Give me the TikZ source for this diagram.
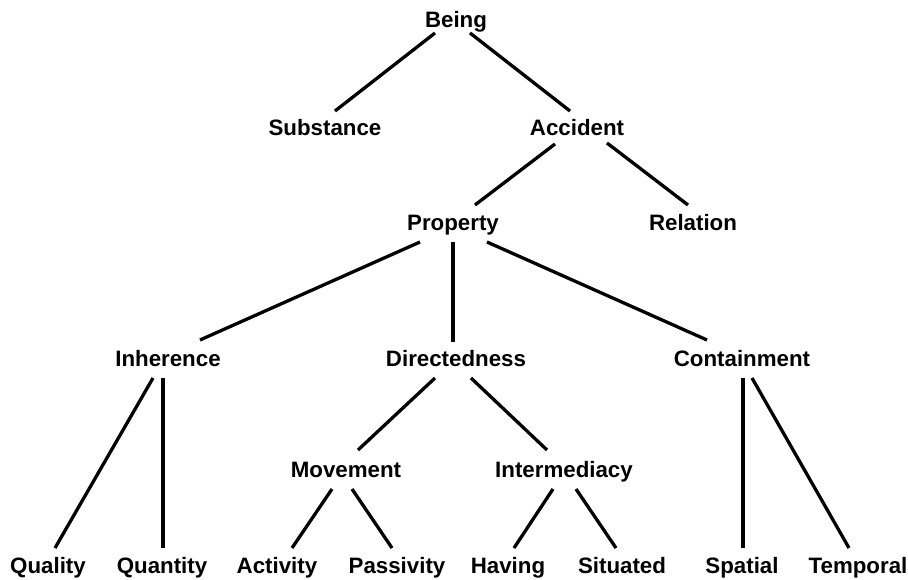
\documentclass[tikz,border=0pt]{standalone}
\usepackage{fontspec}
\setmainfont{Liberation Sans}
\begin{document}
\begin{tikzpicture}[x=1pt,y=-1pt,
  lbl/.style={anchor=base,inner sep=0pt,font=\fontsize{22.3}{24}\selectfont\bfseries},
  edge/.style={line width=3.3pt,black}]
\useasboundingbox[fill=white] (0,0) rectangle (908,579);
\node[lbl] (being) at (456,27) {Being};
\node[lbl] (sub) at (325,135) {Substance};
\node[lbl] (acc) at (577,135) {Accident};
\node[lbl] (prop) at (453,230) {Property};
\node[lbl] (rel) at (693,230) {Relation};
\node[lbl] (inh) at (168,366) {Inherence};
\node[lbl] (dir) at (456,366) {Directedness};
\node[lbl] (cont) at (742,366) {Containment};
\node[lbl] (mov) at (346,477) {Movement};
\node[lbl] (inter) at (564,477) {Intermediacy};
\node[lbl] (qual) at (48,573) {Quality};
\node[lbl] (quan) at (162,573) {Quantity};
\node[lbl] (act) at (277,573) {Activity};
\node[lbl] (pas) at (397,573) {Passivity};
\node[lbl] (hav) at (508,573) {Having};
\node[lbl] (sit) at (622,573) {Situated};
\node[lbl] (spa) at (742,573) {Spatial};
\node[lbl] (tem) at (858,573) {Temporal};
\draw[edge] ([shift={(-21,6)}]being.base) -- ([shift={(10,-24)}]sub.base);
\draw[edge] ([shift={(14,6)}]being.base) -- ([shift={(-7,-24)}]acc.base);
\draw[edge] ([shift={(-22,9)}]acc.base) -- ([shift={(22,-25)}]prop.base);
\draw[edge] ([shift={(30,8)}]acc.base) -- ([shift={(-5,-25)}]rel.base);
\draw[edge] ([shift={(-33,12)}]prop.base) -- ([shift={(32,-26)}]inh.base);
\draw[edge] ([shift={(0,12)}]prop.base) -- ([shift={(-3,-24)}]dir.base);
\draw[edge] ([shift={(34,12)}]prop.base) -- ([shift={(-35,-26)}]cont.base);
\draw[edge] ([shift={(-15,12)}]inh.base) -- ([shift={(7,-25)}]qual.base);
\draw[edge] ([shift={(-5,12)}]inh.base) -- ([shift={(1,-25)}]quan.base);
\draw[edge] ([shift={(-21,12)}]dir.base) -- ([shift={(12,-27)}]mov.base);
\draw[edge] ([shift={(15,12)}]dir.base) -- ([shift={(-17,-27)}]inter.base);
\draw[edge] ([shift={(1,12)}]cont.base) -- ([shift={(1,-25)}]spa.base);
\draw[edge] ([shift={(10,12)}]cont.base) -- ([shift={(-9,-25)}]tem.base);
\draw[edge] ([shift={(-14,12)}]mov.base) -- ([shift={(15,-25)}]act.base);
\draw[edge] ([shift={(6,12)}]mov.base) -- ([shift={(-5,-25)}]pas.base);
\draw[edge] ([shift={(-11,12)}]inter.base) -- ([shift={(6,-25)}]hav.base);
\draw[edge] ([shift={(12,12)}]inter.base) -- ([shift={(-6,-25)}]sit.base);
\end{tikzpicture}
\end{document}
